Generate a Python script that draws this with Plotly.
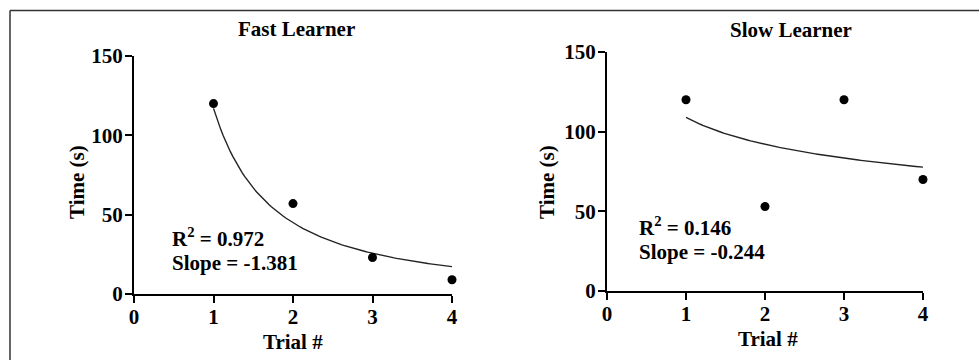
import numpy as np
import plotly.graph_objects as go

trial = [1, 2, 3, 4]
fast_times = [120, 57, 23, 9]
slow_times = [120, 53, 120, 70]
fast_fit = {"a": 117.0, "slope": -1.381, "r2": 0.972}
slow_fit = {"a": 109.0, "slope": -0.244, "r2": 0.146}
x_ticks = [0, 1, 2, 3, 4]
y_ticks = [0, 50, 100, 150]

FONT = "Liberation Serif"
FS = 21
W, H = 979, 360

fig = go.Figure()

xs = np.linspace(1, 4, 100)
for i, (times, fit) in enumerate([(fast_times, fast_fit), (slow_times, slow_fit)]):
    xa = "x" if i == 0 else "x2"
    ya = "y" if i == 0 else "y2"
    fig.add_trace(go.Scatter(x=xs, y=fit["a"] * xs ** fit["slope"], mode="lines",
                             line=dict(color="#222", width=1.4), xaxis=xa, yaxis=ya,
                             hoverinfo="skip", showlegend=False, cliponaxis=False))
    fig.add_trace(go.Scatter(x=trial, y=times, mode="markers",
                             marker=dict(color="black", size=9), xaxis=xa, yaxis=ya,
                             showlegend=False, cliponaxis=False))

def px_x(p):
    return p / W

def px_y(p):
    return 1 - p / H

axis_common = dict(showgrid=False, zeroline=False, showline=True, linecolor="black",
                   linewidth=2, ticks="outside", ticklen=7, tickwidth=2, tickcolor="black",
                   automargin=False,
                   tickfont=dict(family=FONT, size=FS, color="black", weight="bold"))
xaxis_common = dict(ticklabelstandoff=-4, **axis_common)
yaxis_common = dict(ticklabelstandoff=-2, **axis_common)

fig.update_layout(
    width=W, height=H, margin=dict(l=0, r=0, t=0, b=0, pad=0, autoexpand=False),
    autosize=False,
    paper_bgcolor="white", plot_bgcolor="white",
    font=dict(family=FONT, size=FS, color="black"),
    xaxis=dict(domain=[px_x(134), px_x(452)], range=[0, 4], tickvals=x_ticks,
               anchor="y", **xaxis_common),
    yaxis=dict(domain=[px_y(294), px_y(56)], range=[0, 150], tickvals=y_ticks,
               anchor="x", **yaxis_common),
    xaxis2=dict(domain=[px_x(607), px_x(923)], range=[0, 4], tickvals=x_ticks,
                anchor="y2", **xaxis_common),
    yaxis2=dict(domain=[px_y(291), px_y(52)], range=[0, 150], tickvals=y_ticks,
                anchor="x2", **yaxis_common),
)

def bold(t):
    return "<b>" + t + "</b>"

F = dict(family=FONT, size=FS, color="black")
C = dict(xref="paper", yref="paper", xanchor="center", yanchor="middle", showarrow=False, font=F)
ann = []
ann.append(dict(text=bold("Fast Learner"), x=px_x(296), y=px_y(29), **C))
ann.append(dict(text=bold("Slow Learner"), x=px_x(791), y=px_y(30), **C))
for xp, yp in [(293, 342), (768, 339)]:
    ann.append(dict(text=bold("Trial #"), x=px_x(xp), y=px_y(yp), **C))
for xp, yp in [(77, 182), (547, 182)]:
    ann.append(dict(text=bold("Time (s)"), x=px_x(xp), y=px_y(yp), textangle=-90, **C))
for xr, yr, xd, y1, y2, fit in [("x", "y", 0.45, 35.9, 19.5, fast_fit),
                                 ("x2", "y2", 0.38, 40.2, 24.5, slow_fit)]:
    ann.append(dict(text=bold("R<sup>2</sup> = %.3f" % fit["r2"]), x=xd, y=y1, xref=xr, yref=yr,
                    xanchor="left", yanchor="middle", showarrow=False, font=F))
    ann.append(dict(text=bold("Slope = %.3f" % fit["slope"]), x=xd, y=y2, xref=xr, yref=yr,
                    xanchor="left", yanchor="middle", showarrow=False, font=F))
fig.update_layout(annotations=ann)

fig.add_shape(type="line", xref="paper", yref="paper", x0=px_x(10), x1=1, y0=px_y(10.5), y1=px_y(10.5),
              line=dict(color="#333", width=1.5))
fig.add_shape(type="line", xref="paper", yref="paper", x0=px_x(10), x1=px_x(10), y0=px_y(10.5), y1=0,
              line=dict(color="#333", width=1.5))

fig.write_html("out.html", config={"responsive": False})
